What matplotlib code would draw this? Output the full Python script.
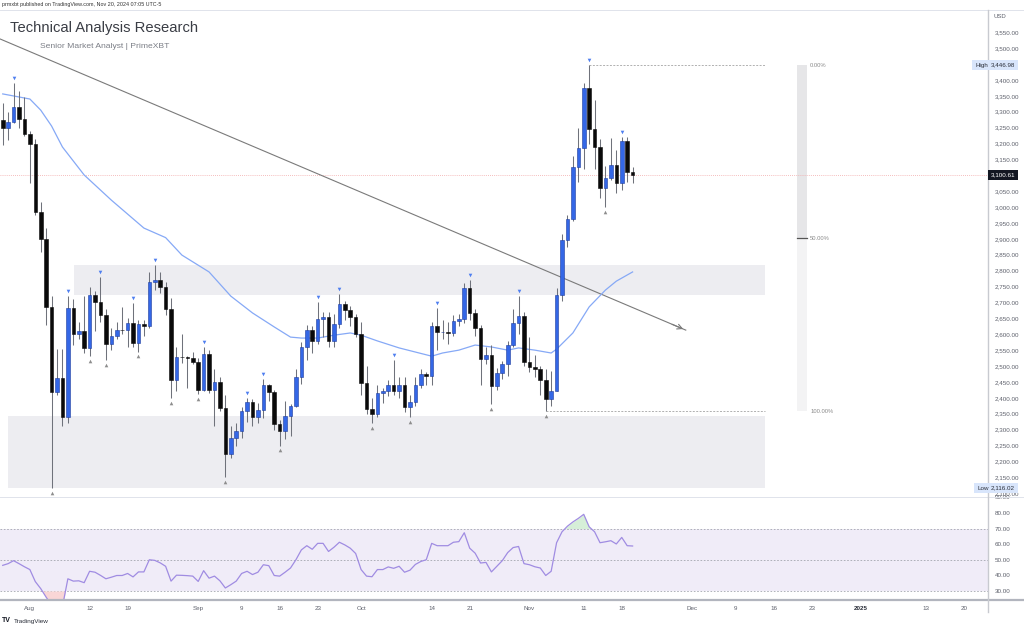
import matplotlib
matplotlib.use('Agg')
import matplotlib.pyplot as plt
import matplotlib.dates as mdates
from matplotlib.patches import Rectangle
from matplotlib.lines import Line2D
from matplotlib import transforms
import numpy as np
import pandas as pd

plt.rcParams['font.family'] = ['Liberation Sans', 'DejaVu Sans']

# ---------------- data ----------------
start_date = '2024-07-27'
open_ = [3274, 3249, 3268, 3315, 3277, 3230, 3199, 2985, 2900, 2686,
         2419, 2463, 2340, 2683, 2601, 2611, 2557, 2722, 2703, 2661,
         2570, 2595, 2614, 2612, 2636, 2573, 2633, 2625, 2764, 2770,
         2748, 2680, 2457, 2528, 2527, 2525, 2512, 2425, 2538, 2425,
         2450, 2368, 2224, 2274, 2296, 2359, 2388, 2340, 2362, 2440,
         2419, 2318, 2296, 2343, 2375, 2466, 2560, 2613, 2579, 2648,
         2655, 2579, 2632, 2695, 2676, 2655, 2601, 2447, 2365, 2350,
         2415, 2420, 2440, 2421, 2440, 2370, 2386, 2440, 2475, 2470,
         2626, 2606, 2608, 2605, 2643, 2648, 2746, 2667, 2620, 2522,
         2535, 2438, 2478, 2506, 2567, 2636, 2658, 2513, 2497, 2490,
         2455, 2397, 2422, 2723, 2897, 2963, 3126, 3186, 3375, 3246,
         3189, 3060, 3092, 3132, 3075, 3208, 3110]
high = [3327, 3300, 3390, 3365, 3345, 3240, 3215, 3015, 2935, 2720,
        2555, 2555, 2720, 2710, 2640, 2720, 2749, 2735, 2780, 2680,
        2620, 2640, 2685, 2650, 2698, 2645, 2645, 2795, 2818, 2795,
        2765, 2715, 2560, 2600, 2530, 2545, 2525, 2560, 2550, 2490,
        2465, 2410, 2310, 2320, 2370, 2400, 2395, 2385, 2460, 2445,
        2425, 2330, 2390, 2380, 2490, 2575, 2630, 2625, 2702, 2670,
        2670, 2665, 2727, 2705, 2690, 2665, 2640, 2500, 2400, 2440,
        2430, 2455, 2519, 2465, 2465, 2410, 2465, 2490, 2480, 2640,
        2683, 2645, 2640, 2660, 2665, 2760, 2770, 2680, 2630, 2560,
        2565, 2495, 2515, 2578, 2680, 2720, 2670, 2590, 2535, 2500,
        2490, 2485, 2745, 2915, 2975, 3160, 3250, 3390, 3446.98, 3337,
        3215, 3130, 3217, 3180, 3222, 3220, 3125]
low = [3195, 3211, 3265, 3250, 3225, 3076, 2975, 2860, 2630, 2116.02,
       2410, 2310, 2320, 2565, 2585, 2541, 2530, 2610, 2640, 2519,
       2550, 2585, 2600, 2560, 2560, 2545, 2595, 2620, 2740, 2730,
       2660, 2400, 2420, 2510, 2430, 2505, 2412, 2420, 2415, 2310,
       2360, 2150, 2210, 2250, 2275, 2325, 2310, 2320, 2335, 2390,
       2300, 2250, 2270, 2280, 2370, 2445, 2520, 2540, 2570, 2590,
       2560, 2560, 2620, 2645, 2625, 2590, 2410, 2350, 2320, 2340,
       2385, 2405, 2410, 2400, 2355, 2340, 2375, 2430, 2440, 2440,
       2550, 2585, 2570, 2595, 2625, 2635, 2645, 2595, 2440, 2505,
       2380, 2425, 2460, 2470, 2560, 2600, 2500, 2480, 2465, 2410,
       2357, 2375, 2420, 2705, 2875, 2955, 3080, 3120, 3200, 3120,
       3029, 3000, 3085, 3045, 3055, 3080, 3075]
close = [3249, 3268, 3315, 3277, 3230, 3199, 2985, 2900, 2686, 2419,
         2463, 2340, 2683, 2601, 2611, 2557, 2722, 2703, 2661, 2570,
         2595, 2614, 2612, 2636, 2573, 2633, 2625, 2764, 2770, 2748,
         2680, 2457, 2528, 2527, 2525, 2512, 2425, 2538, 2425, 2450,
         2368, 2224, 2274, 2296, 2359, 2388, 2340, 2362, 2440, 2419,
         2318, 2296, 2343, 2375, 2466, 2560, 2613, 2579, 2648, 2655,
         2579, 2632, 2695, 2676, 2655, 2601, 2447, 2365, 2350, 2415,
         2420, 2440, 2421, 2440, 2370, 2386, 2440, 2475, 2470, 2626,
         2606, 2608, 2605, 2643, 2648, 2746, 2667, 2620, 2522, 2535,
         2438, 2478, 2506, 2567, 2636, 2658, 2513, 2497, 2490, 2455,
         2397, 2422, 2723, 2897, 2963, 3126, 3186, 3375, 3246, 3189,
         3060, 3092, 3132, 3075, 3208, 3110, 3100.61]

# moving average (day offset from start, value)
ma_day = [0, 5, 7, 9, 11, 15, 20, 26, 30, 33, 38, 42, 46, 50, 53, 55, 58,
          61, 64, 66, 69, 73, 79, 81, 84, 87, 90, 93, 95, 98, 101, 102,
          105, 108, 111, 113, 116]
ma_val = [3356, 3340, 3305, 3255, 3189, 3101, 3022, 2934, 2904, 2849, 2796,
          2720, 2667, 2623, 2591, 2588, 2588, 2597, 2604, 2597, 2579, 2557,
          2531, 2541, 2550, 2566, 2560, 2550, 2557, 2550, 2541, 2553, 2604,
          2686, 2739, 2767, 2796]

rsi = [46.4, 47.5, 49.4, 47.5, 45.5, 43.7, 36.0, 31.5, 26.0, 21.0,
       23.0, 20.0, 37.8, 36.3, 36.5, 35.3, 42.6, 42.0, 40.0, 37.8,
       38.8, 39.9, 39.9, 41.2, 39.0, 42.2, 42.2, 50.0, 49.6, 48.0,
       45.8, 36.3, 40.1, 40.0, 39.8, 39.5, 36.1, 43.0, 38.2, 39.5,
       36.5, 31.9, 34.0, 36.3, 41.2, 42.6, 40.5, 42.0, 46.8, 46.2,
       39.9, 39.5, 42.0, 44.7, 50.0, 56.3, 59.0, 56.7, 60.5, 60.5,
       55.3, 58.0, 61.2, 59.5, 57.4, 54.0, 43.7, 39.5, 39.1, 43.7,
       43.7, 45.4, 44.5, 45.8, 42.0, 43.3, 47.0, 48.9, 50.0, 60.5,
       59.0, 59.0, 59.0, 61.2, 61.6, 67.3, 57.4, 54.2, 47.9, 48.3,
       42.2, 45.8, 49.4, 54.6, 57.8, 58.5, 47.5, 46.8, 45.5, 44.7,
       39.9, 42.6, 60.9, 67.9, 71.5, 74.2, 76.5, 79.1, 71.1, 67.9,
       60.9, 61.5, 62.2, 60.1, 64.3, 59.0, 58.8]

pivot_high_idx = [2, 12, 18, 24, 28, 37, 45, 48, 58, 62, 72, 80, 86, 95, 108, 114]
pivot_low_idx = [9, 16, 19, 25, 31, 36, 41, 51, 68, 75, 90, 100, 111]

zone_upper = [2723, 2818]
zone_lower = [2116, 2343]
zone_upper_start = '2024-08-09 02:00'
zone_lower_start = '2024-07-28 00:00'
zone_end = '2024-12-14 10:00'

trend_dates = ['2024-07-26 12:00', '2024-11-29 19:00']
trend_prices = [3529, 2613]

fib_high, fib_low = 3446.98, 2357
fib_levels = [0.0, 0.5, 1.0]
fib_labels = ['0.00%', '50.00%', '100.00%']
fib_bar = ['2024-12-20 07:00', '2024-12-22 02:00']

last_price = 3100.61
high_label = 3446.98
low_label = 2116.02

tick_dates = ['2024-08-01', '2024-08-12', '2024-08-19', '2024-09-01', '2024-09-09',
              '2024-09-16', '2024-09-23', '2024-10-01', '2024-10-14', '2024-10-21',
              '2024-11-01', '2024-11-11', '2024-11-18', '2024-12-01', '2024-12-09',
              '2024-12-16', '2024-12-23', '2025-01-01', '2025-01-13', '2025-01-20']
tick_labels = ['Aug', '12', '19', 'Sep', '9', '16', '23', 'Oct', '14', '21',
               'Nov', '11', '18', 'Dec', '9', '16', '23', '2025', '13', '20']

price_ticks = [p for p in range(2100, 3600, 50) if p not in (3450, 3100)]
rsi_ticks = [30, 40, 50, 60, 70, 80, 90]

# ---------------- figure ----------------
W, H = 1024, 632
fig = plt.figure(figsize=(W / 100, H / 100), dpi=100)
fig.patch.set_facecolor('white')

def fx(px):
    return px / W

def fy(py):
    return 1 - py / H

AX_RIGHT = 988
ax_r = fig.add_axes([0, fy(600), fx(AX_RIGHT), (600 - 497) / H])
ax = fig.add_axes([0, fy(497), fx(AX_RIGHT), (497 - 10) / H])
ax.set_zorder(3)
ax.patch.set_alpha(0)

dates = pd.date_range(start_date, periods=len(close), freq='D')
xd = mdates.date2num(dates)
o = np.array(open_, float); h = np.array(high, float)
l = np.array(low, float); c = np.array(close, float)
x0 = mdates.date2num(pd.Timestamp(start_date))
xlim = (x0 - 0.5, x0 + 181.45)

for a in (ax, ax_r):
    a.set_xlim(*xlim)
    for s in a.spines.values():
        s.set_visible(False)

ax.set_ylim(2088, 3620)
ax_r.set_ylim(24.2, 90.2)

# zones
def rect(a, d0, d1, lo, hi, **kw):
    x_a = mdates.date2num(pd.Timestamp(d0)); x_b = mdates.date2num(pd.Timestamp(d1))
    a.add_patch(Rectangle((x_a, lo), x_b - x_a, hi - lo, **kw))

rect(ax, zone_upper_start, zone_end, zone_upper[0], zone_upper[1],
     facecolor='#ededf1', edgecolor='none', zorder=0)
rect(ax, zone_lower_start, zone_end, zone_lower[0], zone_lower[1],
     facecolor='#ededf1', edgecolor='none', zorder=0)

# fib
fib_prices = [fib_high - lv * (fib_high - fib_low) for lv in fib_levels]
xe = mdates.date2num(pd.Timestamp(zone_end))
ax.plot([xd[108], xe], [fib_prices[0]] * 2, color='#b0b0b0', lw=0.7,
        ls=(0, (2, 1.5)), zorder=1)
ax.plot([xd[100], xe], [fib_prices[2]] * 2, color='#b0b0b0', lw=0.7,
        ls=(0, (2, 1.5)), zorder=1)
rect(ax, fib_bar[0], fib_bar[1], fib_prices[1], fib_prices[0],
     facecolor='#e6e6e8', edgecolor='none', zorder=1)
rect(ax, fib_bar[0], fib_bar[1], fib_prices[2], fib_prices[1],
     facecolor='#f3f3f4', edgecolor='none', zorder=1)
fb0 = mdates.date2num(pd.Timestamp(fib_bar[0])); fb1 = mdates.date2num(pd.Timestamp(fib_bar[1]))
ax.plot([fb0, fb1], [fib_prices[1]] * 2, color='#555555', lw=0.9, zorder=2)
for p, lab in zip(fib_prices, fib_labels):
    ax.text(fb1 + 0.6, p, lab, fontsize=4.2, color='#8a8a8a', va='center', ha='left')

# last price dotted line
ax.axhline(last_price, color='#f2a7a7', lw=0.6, ls=(0, (1, 1.5)), zorder=1)

# trend line with arrow
td = [mdates.date2num(pd.Timestamp(t)) for t in trend_dates]
ax.plot(td, trend_prices, color='#7a7a7a', lw=0.8, zorder=2)
ax.annotate('', xy=(td[1], trend_prices[1]), xytext=(td[1] - 3, trend_prices[1] + 3 * (trend_prices[0] - trend_prices[1]) / (td[1] - td[0])),
            arrowprops=dict(arrowstyle='->,head_length=0.35,head_width=0.18', color='#7a7a7a', lw=0.8),
            zorder=2)

# moving average
ma_x = x0 + np.array(ma_day, float)
ax.plot(ma_x, ma_val, color='#86a9f6', lw=0.9, zorder=2)

# candles
up = c >= o
ax.vlines(xd, l, h, color='#6f727b', lw=0.75, zorder=3)
body_lo = np.minimum(o, c)
body_h = np.maximum(np.abs(c - o), 2.0)
ax.bar(xd[up], body_h[up], bottom=body_lo[up], width=0.66, color='#3467e6',
       edgecolor='#1d3c9c', linewidth=0.4, zorder=4)
ax.bar(xd[~up], body_h[~up], bottom=body_lo[~up], width=0.66, color='#0a0a0a',
       edgecolor='#0a0a0a', linewidth=0.4, zorder=4)

# pivot markers
t_up = transforms.offset_copy(ax.transData, fig=fig, y=3.4, units='points')
t_dn = transforms.offset_copy(ax.transData, fig=fig, y=-3.4, units='points')
ax.plot(xd[pivot_high_idx], h[pivot_high_idx], 'v', color='#4f7ff0', ms=2.6,
        mew=0, transform=t_up, zorder=5, clip_on=False)
ax.plot(xd[pivot_low_idx], l[pivot_low_idx], '^', color='#8d8d8d', ms=2.6,
        mew=0, transform=t_dn, zorder=5, clip_on=False)

# price axis
ax.set_xticks([])
ax.yaxis.tick_right()
ax.set_yticks(price_ticks)
ax.set_yticklabels([f'{p:,.2f}' for p in price_ticks])
ax.tick_params(axis='y', length=0, pad=5, labelsize=4.5, labelcolor='#5d606b')

bt = transforms.blended_transform_factory(fig.transFigure, ax.transData)
ax.text(fx(991), high_label, f'{high_label:,.2f}', transform=bt, fontsize=4.5,
        color='#2a2e39', va='center', ha='left', zorder=10, clip_on=False,
        bbox=dict(boxstyle='square,pad=0.45', fc='#d8e5fb', ec='none'))
ax.text(fx(975), high_label, 'High', transform=bt, fontsize=4.5,
        color='#2a2e39', va='center', ha='left', zorder=10, clip_on=False,
        bbox=dict(boxstyle='square,pad=0.45', fc='#d8e5fb', ec='none'))
ax.text(fx(991), low_label, f'{low_label:,.2f}', transform=bt, fontsize=4.5,
        color='#2a2e39', va='center', ha='left', zorder=10, clip_on=False,
        bbox=dict(boxstyle='square,pad=0.45', fc='#d8e5fb', ec='none'))
ax.text(fx(977), low_label, 'Low', transform=bt, fontsize=4.5,
        color='#2a2e39', va='center', ha='left', zorder=10, clip_on=False,
        bbox=dict(boxstyle='square,pad=0.45', fc='#d8e5fb', ec='none'))
ax.text(fx(991), last_price, f'{last_price:,.2f}', transform=bt, fontsize=4.5,
        color='white', va='center', ha='left', zorder=10, clip_on=False,
        bbox=dict(boxstyle='square,pad=0.45', fc='#131722', ec='none'))

# RSI pane
ax_r.axhspan(30, 70, color='#f0ecf8', zorder=0, lw=0)
for lv in (70, 50, 30):
    ax_r.axhline(lv, color='#a3a6af', lw=0.6, ls=(0, (2, 2)), zorder=1)
r = np.array(rsi, float)
ax_r.fill_between(xd, r, 70, where=r > 70, interpolate=True, color='#d6efd8', lw=0, zorder=1)
ax_r.fill_between(xd, r, 30, where=r < 30, interpolate=True, color='#f9d6d6', lw=0, zorder=1)
ax_r.plot(xd, r, color='#a08ce2', lw=0.9, zorder=2)
ax_r.yaxis.tick_right()
ax_r.set_yticks(rsi_ticks)
ax_r.set_yticklabels([f'{v:.2f}' for v in rsi_ticks])
ax_r.tick_params(axis='y', length=0, pad=5, labelsize=4.5, labelcolor='#5d606b')
tick_x = [mdates.date2num(pd.Timestamp(t)) for t in tick_dates]
ax_r.set_xticks(tick_x)
ax_r.set_xticklabels(tick_labels)
ax_r.tick_params(axis='x', length=0, pad=4.5, labelsize=4.5, labelcolor='#5d606b')
for t in ax_r.get_xticklabels():
    if t.get_text() == '2025':
        t.set_fontweight('bold')
        t.set_color('#2a2e39')

# frame lines
def fline(x_a, y_a, x_b, y_b, color, lw):
    fig.add_artist(Line2D([fx(x_a), fx(x_b)], [fy(y_a), fy(y_b)], color=color, lw=lw,
                          transform=fig.transFigure))

fline(0, 10, W, 10, '#e0e3eb', 0.7)
fline(0, 497, W, 497, '#e0e3eb', 0.7)
fline(0, 600, W, 600, '#b2b5be', 1.6)
fline(AX_RIGHT, 10, AX_RIGHT, 612, '#c8cad0', 1.0)

# texts
fig.text(fx(2), fy(4.5), 'prmxbt published on TradingView.com, Nov 20, 2024 07:05 UTC-5',
         fontsize=3.9, color='#333333', va='center', ha='left')
fig.text(fx(10), fy(28), 'Technical Analysis Research', fontsize=10.6,
         color='#3a3d45', va='center', ha='left')
fig.text(fx(40), fy(47), 'Senior Market Analyst | PrimeXBT', fontsize=6.1,
         color='#7b7e86', va='center', ha='left')
fig.text(fx(993), fy(16), 'USD', fontsize=4.3, color='#5d606b', va='center', ha='left')
fig.text(fx(2), fy(621), 'TV', fontsize=5, fontweight='bold', color='#131722',
         va='center', ha='left')
fig.text(fx(14), fy(621), 'TradingView', fontsize=4.6, color='#2a2e39',
         va='center', ha='left')

fig.savefig('out.png', dpi=100, facecolor='white')
